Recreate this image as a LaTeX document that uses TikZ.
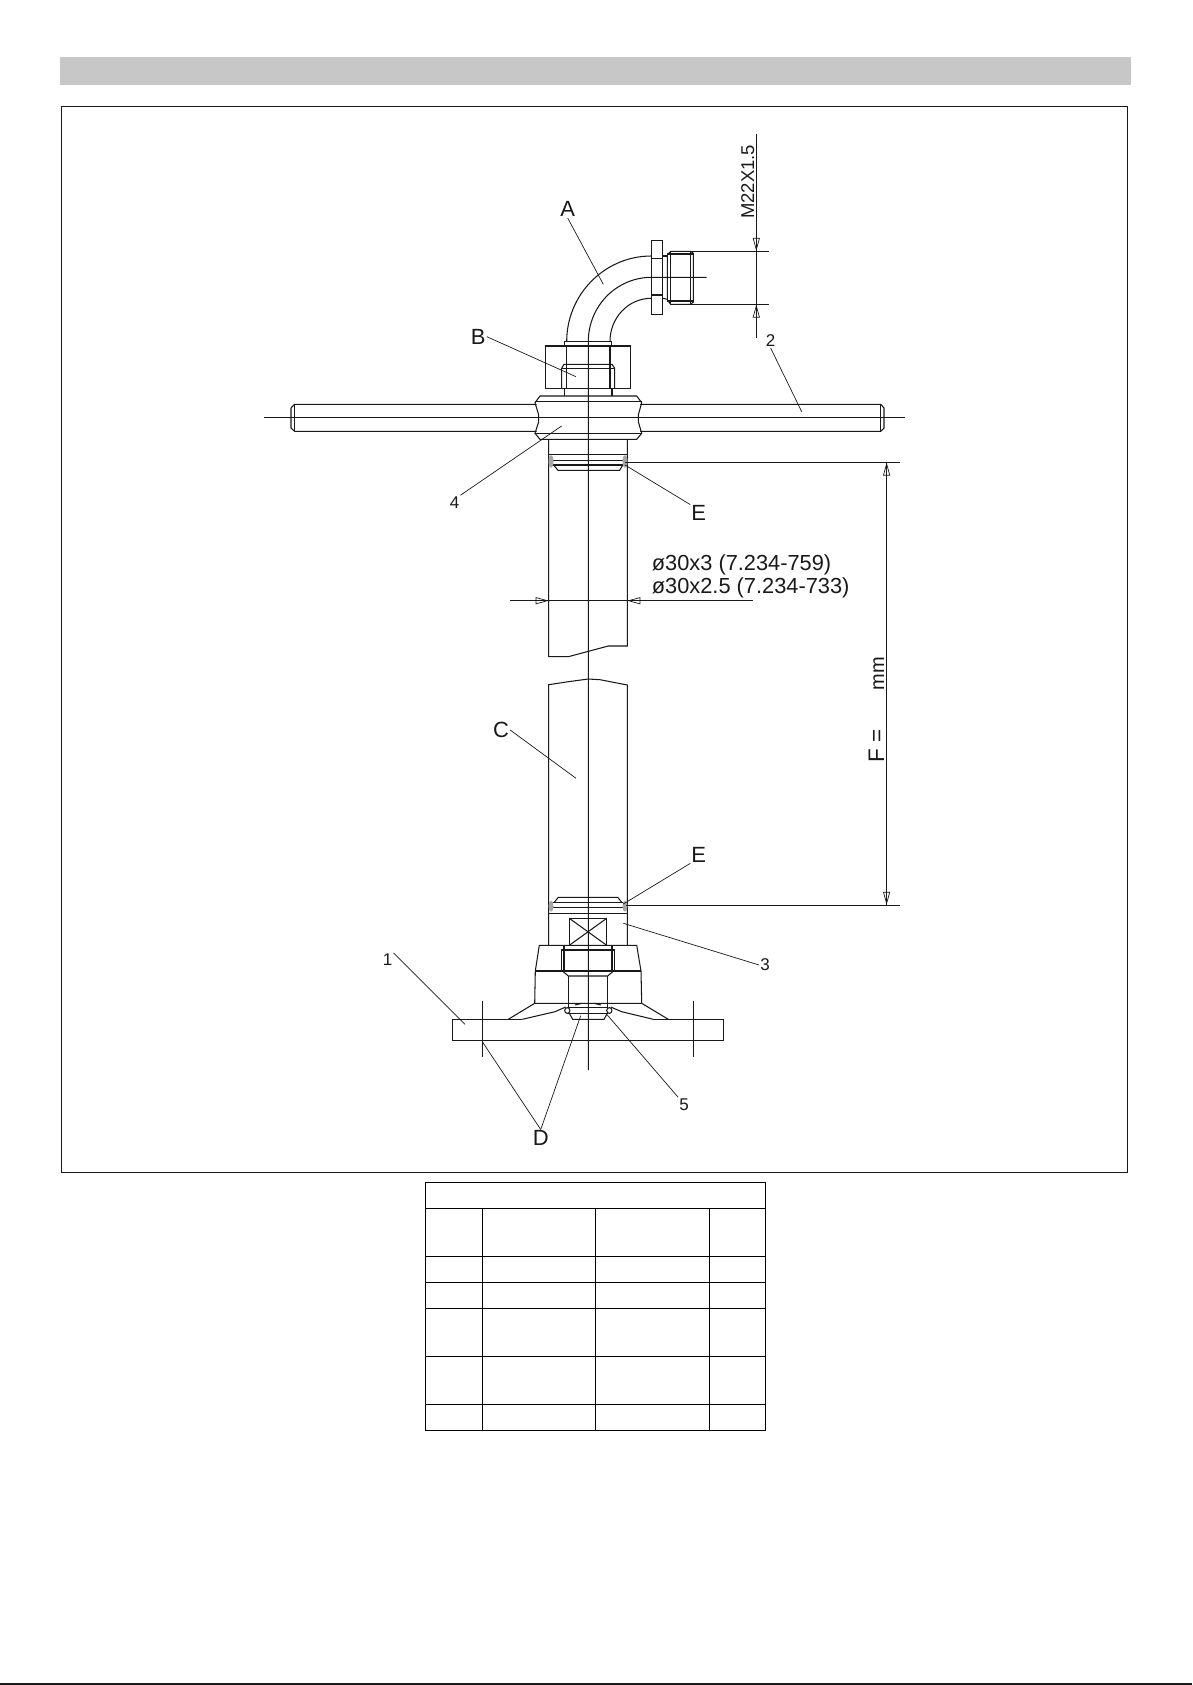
\documentclass[tikz,border=0pt]{standalone}
\usepackage{fontspec}
\setmainfont{Liberation Sans}
\usetikzlibrary{arrows.meta}
\definecolor{inkcol}{gray}{0.1}
\definecolor{barcol}{gray}{0.78}
\definecolor{sealcol}{gray}{0.65}
\tikzset{
  part/.style={draw=inkcol,line width=1.05pt,line join=miter},
  leader/.style={draw=inkcol,line width=0.7pt},
  dimline/.style={draw=inkcol,line width=0.9pt},
  dimtip/.style={draw=inkcol,line width=0.7pt,-{Triangle[open,length=13pt,width=7pt]}},
  lbl/.style={font=\fontsize{22}{22}\selectfont,text=inkcol,inner sep=1pt},
  numlbl/.style={font=\fontsize{17}{17}\selectfont,text=inkcol,inner sep=1pt},
  dimlbl/.style={font=\fontsize{21.8}{22}\selectfont,text=inkcol,inner sep=0pt,anchor=base west},
}
\begin{document}
\begin{tikzpicture}[x=1pt,y=-1pt]
\useasboundingbox (0,0) rectangle (1192,1685);
% page furniture
\fill[barcol] (60,57) rectangle (1131,85);
\draw[draw=inkcol,line width=1.2pt] (61.3,106.3) rectangle (1127.7,1172.7);
\draw[draw=inkcol,line width=1.6pt] (0,1684) -- (1192,1684);

% the empty table
\draw[draw=black,line width=1.1pt] (425.3,1182.3) rectangle (765.3,1430.3);
\foreach \ry in {1208.3,1256.3,1282.3,1308.3,1356.3,1404.3}
  \draw[draw=black,line width=1.1pt] (425.3,\ry) -- (765.3,\ry);
\foreach \rx in {482.3,595.3,709.3}
  \draw[draw=black,line width=1.1pt] (\rx,1208.3) -- (\rx,1430.3);

% centre lines
\draw[part] (706.7,277.3) -- (651.7,277.3) .. controls (616.5,277.3) and (588.3,306) .. (588.3,341.7) -- (588.3,1070);
\draw[part] (264.3,417.3) -- (905.4,417.3);
\draw[part] (482.3,1001) -- (482.3,1056.7);
\draw[part] (693.3,1001) -- (693.3,1056.7);

% elbow
\draw[part] (566.7,341.3) .. controls (566.7,294.6) and (604.6,256) .. (651.3,256);
\draw[part] (610,341.3) .. controls (610,318) and (628,298.3) .. (651.3,298.3);
\draw[part] (651.3,240.7) rectangle (662.7,314.3);
\draw[part] (651.3,258.3) -- (662.7,258.3);
\draw[part] (651.3,295) -- (662.7,295);
\draw[part] (662.7,256) -- (667.3,256);
\draw[part] (662.7,298.3) -- (667.3,299.3);
\draw[part] (670.7,251.3) -- (690.7,251.3) -- (693.3,253.3) -- (693.3,302) -- (690.7,304.3) -- (670.7,304.3) -- (667.3,300) -- (667.3,255) -- cycle;
\draw[part] (667.3,254) -- (693.3,254);
\draw[part] (667.3,301) -- (693.3,301);
\draw[part] (670.7,252) -- (670.7,304);
\draw[part] (690.7,252) -- (690.7,304);

% thread size dimension
\draw[dimline] (690.7,251.3) -- (769,251.3);
\draw[dimline] (690.7,304.3) -- (769,304.3);
\draw[dimline] (756.3,134) -- (756.3,337.7);
\draw[dimtip] (756.3,238) -- (756.3,251);
\draw[dimtip] (756.3,317) -- (756.3,304.5);
\node[lbl,rotate=90,anchor=base west,font=\fontsize{18.5}{18.5}\selectfont,inner sep=0pt] (sizeM) at (754,219) {M22X1.5};

% nut
\draw[part] (564.7,346) -- (564.7,341.3) -- (611.7,341.3) -- (611.7,346);
\draw[part] (545.3,346) rectangle (630.7,388.3);
\draw[part] (566.7,346) -- (566.7,388.3);
\draw[part] (610,346) -- (610,388.3);
\draw[part] (561.7,388.3) -- (561.7,368.3) -- (564,364.3) -- (612,364.3) -- (614.7,368.3) -- (614.7,388.3);
\draw[part] (561.7,368.3) -- (614.7,368.3);
\draw[part] (564.3,388.3) -- (564.3,396);
\draw[part] (612,388.3) -- (612,396);

% hub
\draw[part] (535,402.7) -- (540,396) -- (636.7,396) -- (641.7,402.7) -- (638.3,415) -- (638.3,421.7) -- (641.7,433.3) -- (636.7,439.3) -- (540,439.3) -- (535,433.3) -- (538.7,421.7) -- (538.7,415) -- cycle;
\draw[part] (535,401.7) -- (641.7,401.7);
\draw[part] (535,433.3) -- (641.7,433.3);

% bar
\draw[part] (536.5,404.3) -- (294.6,404.3) -- (291,408) -- (291,428) -- (294.6,431.3) -- (536.5,431.3);
\draw[part] (294.6,404.3) -- (294.6,431.3);
\draw[part] (640.2,404.3) -- (880.8,404.3) -- (884,408) -- (884,428) -- (880.8,431.3) -- (640.2,431.3);
\draw[part] (880.8,404.3) -- (880.8,431.3);

% tube, upper piece
\draw[part] (548.7,439.3) -- (548.7,656.7) -- (568.3,656.7) -- (608.3,646) -- (627.3,646) -- (627.3,439.3);
\draw[part] (548.7,454.3) -- (627.3,454.3);
\draw[part] (553.3,460.5) -- (622.8,460.5);
\draw[part] (553.3,465) -- (622.8,465);
\draw[part] (553.6,465) -- (558,470.3) -- (619.6,470.3) -- (622.8,465);
\fill[sealcol] (551,461.5) ellipse (2.5pt and 6.5pt);
\fill[sealcol] (625,461.5) ellipse (2.5pt and 6.5pt);

% tube, lower piece
\draw[part] (548.7,945.3) -- (548.7,684.7) -- (568.3,681.7) -- (588.3,679) -- (600,679.7) -- (627.3,685) -- (627.3,945.3);
\draw[part] (554,902.7) -- (558.3,897.3) -- (617.7,897.3) -- (622,902.7);
\draw[part] (552,902.7) -- (624,902.7);
\draw[part] (552,907.3) -- (624,907.3);
\draw[part] (548.7,913.3) -- (627.3,913.3);
\fill[sealcol] (551,906.2) ellipse (2.5pt and 5.5pt);
\fill[sealcol] (625,906.2) ellipse (2.5pt and 5.5pt);

% wrench flat
\draw[part] (569.3,918.3) rectangle (606.7,945.3);
\draw[part] (569.3,918.3) -- (606.7,945.3);
\draw[part] (569.3,945.3) -- (606.7,918.3);

% socket
\draw[part] (534.7,1003.3) -- (535.3,971) -- (539.3,945.3) -- (636.7,945.3) -- (641,971) -- (641.7,1003.3) -- cycle;
\draw[part] (535.3,971) -- (641,971);
\draw[part] (564,945.3) -- (564,971);
\draw[part] (612,945.3) -- (612,971);
\draw[part] (561.3,950) rectangle (614.7,970.3);
\draw[part,line width=1.4pt] (561.3,970.5) -- (614.7,970.5);
\draw[part] (561.3,970) -- (568.3,976) -- (607.7,976) -- (614.7,970);
\draw[part] (568.3,976) -- (568.3,1007.3);
\draw[part] (607.7,976) -- (607.7,1007.3);

% flange
\draw[part] (534.7,1003.3) -- (508.3,1019.3);
\draw[part] (641.7,1003.3) -- (668.3,1019.3);
\draw[part] (522.3,1019.3) -- (555,1011.7) -- (565.7,1007);
\draw[part] (575,1005) -- (582,1003.3);
\draw[part] (653.3,1019.3) -- (621.7,1011.7) -- (610.7,1007);
\draw[part] (601,1005) -- (594,1003.3);
\draw[part] (522.3,1019.3) -- (452.3,1019.3) -- (452.3,1040.3) -- (723.7,1040.3) -- (723.7,1019.3) -- (653.3,1019.3);
\draw[part] (568.3,1007.3) -- (607.7,1007.3);
\draw[part] (568.3,1013.3) -- (607.7,1013.3);
\draw[part] (569.3,1013.3) -- (572.7,1019.3) -- (604,1019.3) -- (607.3,1013.3);
\draw[part] (567.3,1010.5) ellipse (2.6pt and 2.9pt);
\draw[part] (609.3,1010.5) ellipse (2.6pt and 2.9pt);

% tube diameter dimension
\draw[dimline] (510,600.7) -- (752.7,600.7);
\draw[dimtip] (535,600.7) -- (548.7,600.7);
\draw[dimtip] (640.7,600.7) -- (627.3,600.7);
\node[dimlbl] (dia30a) at (651.7,570.7) {ø30x3 (7.234-759)};
\node[dimlbl] (dia30b) at (651.7,593.3) {ø30x2.5 (7.234-733)};

% length dimension
\draw[dimline] (625,462.3) -- (899.5,462.3);
\draw[dimline] (626,905) -- (899.5,905);
\draw[dimline] (886.6,462.3) -- (886.6,905);
\draw[dimtip] (886.6,476) -- (886.6,462.5);
\draw[dimtip] (886.6,891.5) -- (886.6,904.8);
\node[dimlbl,rotate=90,font=\fontsize{22.5}{22.5}\selectfont] (lenF) at (884,763) {F =};
\node[dimlbl,rotate=90,font=\fontsize{20}{20}\selectfont] (lenmm) at (884,690.7) {mm};

% labels
\node[lbl] (lblA) at (567.7,209.3) {A};
\node[lbl] (lblB) at (478.3,336.7) {B};
\node[lbl] (lblC) at (501,730) {C};
\node[lbl] (lblD) at (540.7,1138.3) {D};
\node[lbl] (lblEa) at (698.7,513.3) {E};
\node[lbl] (lblEb) at (698.8,854.6) {E};
\node[numlbl] (lblone) at (387.7,960) {1};
\node[numlbl] (lbltwo) at (770.7,341) {2};
\node[numlbl] (lblthree) at (765,965) {3};
\node[numlbl] (lblfour) at (454.5,502.3) {4};
\node[numlbl] (lblfive) at (684,1104.3) {5};

% leader ends
\foreach \nm/\tx/\ty in {A/603.3/284.3,B/576/376.7,C/576/778.3,Da/482.3/1041.7,Db/580.7/1015.7,Ea/625/465,Eb/623.3/904,
    one/465/1024.3,two/801.7/411.7,three/623.3/923.3,four/561.6/426,five/607.3/1015}
  \coordinate (tip\nm) at (\tx,\ty);
\draw[leader] (lblA.south) -- (tipA);
\draw[leader] (lblB.east) -- (tipB);
\draw[leader] (lblC.east) -- (tipC);
\draw[leader] (lblD.north) -- (tipDa);
\draw[leader] (lblD.north) -- (tipDb);
\draw[leader] (lblEa.north west) -- (tipEa);
\draw[leader] (lblEb.south west) -- (tipEb);
\draw[leader] (lblone.north east) -- (tipone);
\draw[leader] (lbltwo.south) -- (tiptwo);
\draw[leader] (lblthree.west) -- (tipthree);
\draw[leader] (lblfour.north east) -- (tipfour);
\draw[leader] (lblfive.north west) -- (tipfive);
\end{tikzpicture}
\end{document}
